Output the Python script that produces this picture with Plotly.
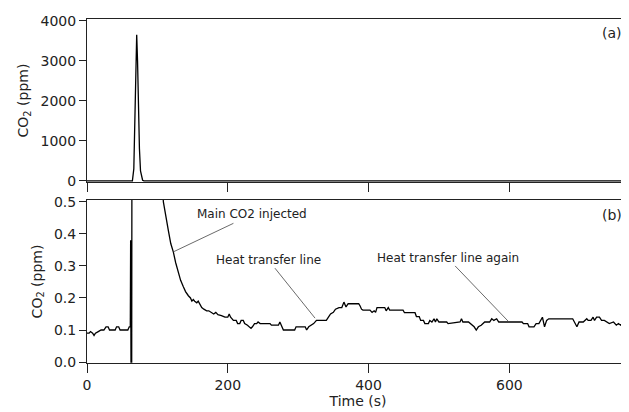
import plotly.graph_objects as go

# ---- data (a): CO2 spike, ppm ----
t_a = [0, 64.5, 66.5, 68, 69.5, 70.6, 71.8, 73, 74.5, 76, 77.7, 79, 81, 770]
co2_a = [0, 0, 300, 1700, 3100, 3650, 3000, 1800, 800, 250, 60, 15, 0, 0]

# ---- data (b): low-level CO2, ppm ----
t_b = [0, 3, 5, 8, 10, 12, 16, 20, 24, 27, 30, 32, 40, 42, 45, 47, 58, 60, 61.5, 62, 62.5, 63.5,
       64, 106, 108.5, 112, 115.6, 119, 122.7, 126, 129.8, 133, 136.9, 140, 144, 147, 149, 151, 153,
       156, 158, 160, 163, 166, 170, 173, 176, 180, 183, 186, 191, 196, 200, 202, 204, 208, 212, 214,
       217, 219, 222, 224, 228, 230, 233, 235, 238, 241, 243, 246, 260, 262, 272, 274, 276, 279, 295,
       297, 310, 312, 315, 318, 322, 326, 340, 343, 346, 350, 353, 358, 362, 365, 368, 371, 386, 388,
       390, 392, 402, 405, 408, 410, 412, 423, 425, 428, 430, 449, 451, 466, 468, 472, 474, 478, 480,
       485, 487, 490, 493, 495, 497, 500, 511, 513, 530, 532, 534, 542, 545, 550, 553, 556, 560, 565,
       572, 575, 578, 582, 585, 618, 620, 626, 628, 635, 638, 642, 647, 650, 653, 656, 690, 692, 696,
       699, 705, 710, 712, 716, 719, 721, 724, 728, 731, 735, 742, 748, 752, 755, 758, 762, 770]
co2_b = [0.09, 0.09, 0.095, 0.09, 0.083, 0.09, 0.095, 0.1, 0.1, 0.11, 0.11, 0.1, 0.1, 0.11, 0.11, 0.1,
         0.1, 0.11, 0.11, 0.38, 0.0, 0.0,
         1.0, 0.6, 0.5, 0.45, 0.41, 0.37, 0.343, 0.31, 0.28, 0.255, 0.235, 0.22, 0.207, 0.2, 0.19, 0.195,
         0.19, 0.185, 0.19, 0.18, 0.17, 0.165, 0.16, 0.16, 0.155, 0.15, 0.155, 0.148, 0.145, 0.14, 0.14,
         0.15, 0.14, 0.13, 0.13, 0.12, 0.12, 0.13, 0.13, 0.12, 0.115, 0.11, 0.105, 0.11, 0.12, 0.12,
         0.125, 0.12, 0.12, 0.115, 0.115, 0.125, 0.115, 0.1, 0.1, 0.11, 0.11, 0.1, 0.11, 0.115, 0.12,
         0.13, 0.13, 0.14, 0.15, 0.155, 0.165, 0.17, 0.17, 0.187, 0.172, 0.182, 0.182, 0.175, 0.165,
         0.162, 0.162, 0.155, 0.16, 0.155, 0.17, 0.17, 0.16, 0.17, 0.162, 0.162, 0.154, 0.154, 0.142,
         0.142, 0.13, 0.13, 0.12, 0.12, 0.13, 0.125, 0.135, 0.125, 0.135, 0.125, 0.125, 0.12, 0.125,
         0.135, 0.125, 0.125, 0.12, 0.11, 0.1, 0.11, 0.115, 0.125, 0.125, 0.135, 0.13, 0.135, 0.125,
         0.125, 0.12, 0.12, 0.11, 0.11, 0.12, 0.12, 0.14, 0.11, 0.13, 0.135, 0.135, 0.125, 0.11, 0.125,
         0.125, 0.135, 0.13, 0.13, 0.14, 0.13, 0.14, 0.14, 0.13, 0.13, 0.12, 0.125, 0.115, 0.12, 0.115,
         0.125, 0.125]

x_ticks = [0, 200, 400, 600]
ya_ticks = [0, 1000, 2000, 3000, 4000]
yb_ticks = [0.0, 0.1, 0.2, 0.3, 0.4, 0.5]
yb_ticktext = ["0.0", "0.1", "0.2", "0.3", "0.4", "0.5"]

# annotations: (label, text x, text y, line tail x, tail y, tip x, tip y)
notes = [
    ("Main CO2 injected", 234.5, 0.462, 208, 0.433, 122.7, 0.344),
    ("Heat transfer line", 257.7, 0.319, 267, 0.293, 324, 0.137),
    ("Heat transfer line again", 513, 0.326, 523, 0.30, 599, 0.126),
]

FONT = "DejaVu Sans"
fig = go.Figure()
fig.add_trace(go.Scatter(x=t_a, y=co2_a, mode="lines", line=dict(color="black", width=1.3),
                         xaxis="x", yaxis="y", showlegend=False))
fig.add_trace(go.Scatter(x=t_b, y=co2_b, mode="lines", line=dict(color="black", width=1.3),
                         xaxis="x2", yaxis="y2", showlegend=False))

axis_common = dict(showgrid=False, zeroline=False, linecolor="#222", linewidth=1,
                   ticks="outside", tickcolor="#222", tickwidth=1, automargin=False,
                   tickfont=dict(family=FONT, size=14, color="#222"))

# page body has an 8px default margin, so the figure is sized/margined to compensate
fig.update_layout(
    width=621, height=404,
    margin=dict(l=79, r=0, t=11, b=49),
    plot_bgcolor="white", paper_bgcolor="white",
    font=dict(family=FONT, size=14, color="#222"),
    xaxis=dict(domain=[0, 1], anchor="y", range=[0, 770], tickvals=x_ticks, showticklabels=False,
               ticklen=9, mirror=True, **axis_common),
    yaxis=dict(domain=[0.526, 1], anchor="x", range=[-30, 4042], tickvals=ya_ticks, ticklen=7,
               title=dict(text="CO<sub>2</sub> (ppm)", standoff=8, font=dict(family=FONT, size=14)),
               **axis_common),
    xaxis2=dict(domain=[0, 1], anchor="y2", range=[0, 770], tickvals=x_ticks, ticklen=9,
                mirror=True,
                title=dict(text="Time (s)", standoff=0, font=dict(family=FONT, size=14)),
                **axis_common),
    yaxis2=dict(domain=[0, 0.474], anchor="x2", range=[-0.003, 0.506], tickvals=yb_ticks,
                ticktext=yb_ticktext, ticklen=7,
                title=dict(text="CO<sub>2</sub> (ppm)", standoff=8, font=dict(family=FONT, size=14)),
                **axis_common),
)

for label, tx, ty, lx, ly, px, py in notes:
    fig.add_annotation(x=tx, y=ty, xref="x2", yref="y2", text=label, showarrow=False,
                       font=dict(family=FONT, size=12, color="#222"))
    fig.add_shape(type="line", xref="x2", yref="y2", x0=lx, y0=ly, x1=px, y1=py,
                  line=dict(color="#444", width=0.8))

fig.add_annotation(x=0.99, y=0.96, xref="paper", yref="paper", text="(a)", showarrow=False,
                   xanchor="right", yanchor="middle", font=dict(family=FONT, size=14, color="#222"))
fig.add_annotation(x=0.99, y=0.43, xref="paper", yref="paper", text="(b)", showarrow=False,
                   xanchor="right", yanchor="middle", font=dict(family=FONT, size=14, color="#222"))

fig.write_html("out.html")
